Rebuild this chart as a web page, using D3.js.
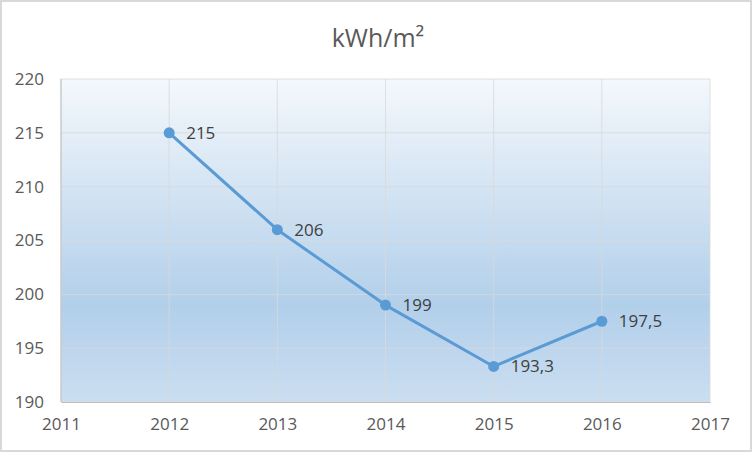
<!DOCTYPE html>
<html>
<head>
<meta charset="utf-8">
<script src="https://cdn.jsdelivr.net/npm/d3@7"></script>
<style>
  body { margin: 0; background: #fff; }
  svg { display: block; font-family: "Open Sans", "Noto Sans", sans-serif; }
</style>
</head>
<body>
<div id="chart"></div>
<script>
var years = [2012, 2013, 2014, 2015, 2016];
var values = [215, 206, 199, 193.3, 197.5];
var labels = ['215', '206', '199', '193,3', '197,5'];
var xTicks = [2011, 2012, 2013, 2014, 2015, 2016, 2017];
var yTicks = [190, 195, 200, 205, 210, 215, 220];

var width = 752, height = 452;
var margin = { top: 79, right: 42, bottom: 50, left: 61 };
var w = width - margin.left - margin.right;
var h = height - margin.top - margin.bottom;

var svg = d3.select("#chart").append("svg")
  .attr("width", width)
  .attr("height", height);

// outer frame
svg.append("rect")
  .attr("x", 1).attr("y", 1)
  .attr("width", width - 2).attr("height", height - 2)
  .attr("fill", "#fff")
  .attr("stroke", "#d9d9d9")
  .attr("stroke-width", 2);

var grad = svg.append("defs").append("linearGradient")
  .attr("id", "bg")
  .attr("x1", 0).attr("y1", 0).attr("x2", 0).attr("y2", 1);
grad.append("stop").attr("offset", "0%").attr("stop-color", "#f4f8fc");
grad.append("stop").attr("offset", "70%").attr("stop-color", "#b2cfea");
grad.append("stop").attr("offset", "100%").attr("stop-color", "#cbdef1");

svg.append("text")
  .attr("x", width / 2 + 2)
  .attr("y", 47)
  .attr("text-anchor", "middle")
  .attr("font-size", 25)
  .attr("fill", "#595959")
  .text("kWh/m²");

var g = svg.append("g")
  .attr("transform", "translate(" + margin.left + "," + margin.top + ")");

var x = d3.scaleLinear().domain([2011, 2017]).range([0, w]);
var y = d3.scaleLinear().domain([190, 220]).range([h, 0]);

g.append("rect")
  .attr("width", w).attr("height", h)
  .attr("fill", "url(#bg)");

// gridlines
g.selectAll(".hgrid").data(yTicks).enter().append("line")
  .attr("x1", 0).attr("x2", w)
  .attr("y1", function(d) { return y(d); })
  .attr("y2", function(d) { return y(d); })
  .attr("stroke", "#d9d9d9").attr("stroke-opacity", 0.8);
g.selectAll(".vgrid").data(xTicks).enter().append("line")
  .attr("y1", 0).attr("y2", h)
  .attr("x1", function(d) { return x(d); })
  .attr("x2", function(d) { return x(d); })
  .attr("stroke", "#d9d9d9").attr("stroke-opacity", 0.8);

// axes
var yAxis = d3.axisLeft(y).tickValues(yTicks).tickSize(0).tickPadding(17);
var xAxis = d3.axisBottom(x).tickValues(xTicks).tickFormat(d3.format("d")).tickSize(0).tickPadding(16);

var ya = g.append("g").call(yAxis);
var xa = g.append("g").attr("transform", "translate(0," + h + ")").call(xAxis);
[ya, xa].forEach(function(a) {
  a.select(".domain").attr("stroke", "#bfbfbf");
  a.selectAll("text")
    .attr("font-size", 17)
    .attr("font-family", "'Open Sans', 'Noto Sans', sans-serif")
    .attr("fill", "#595959");
});
ya.select(".domain").remove();
g.append("line")
  .attr("x1", 0).attr("x2", 0).attr("y1", 0).attr("y2", h)
  .attr("stroke", "#bfbfbf");

// series
var line = d3.line()
  .x(function(d, i) { return x(years[i]); })
  .y(function(d) { return y(d); });

g.append("path")
  .datum(values)
  .attr("d", line)
  .attr("fill", "none")
  .attr("stroke", "#5b9bd5")
  .attr("stroke-width", 3)
  .attr("stroke-linejoin", "round");

g.selectAll(".dot").data(values).enter().append("circle")
  .attr("cx", function(d, i) { return x(years[i]); })
  .attr("cy", function(d) { return y(d); })
  .attr("r", 5.5)
  .attr("fill", "#5b9bd5");

g.selectAll(".lbl").data(values).enter().append("text")
  .attr("x", function(d, i) { return x(years[i]) + 17; })
  .attr("y", function(d) { return y(d) + 6; })
  .attr("font-size", 17)
  .attr("fill", "#404040")
  .text(function(d, i) { return labels[i]; });
</script>
</body>
</html>
